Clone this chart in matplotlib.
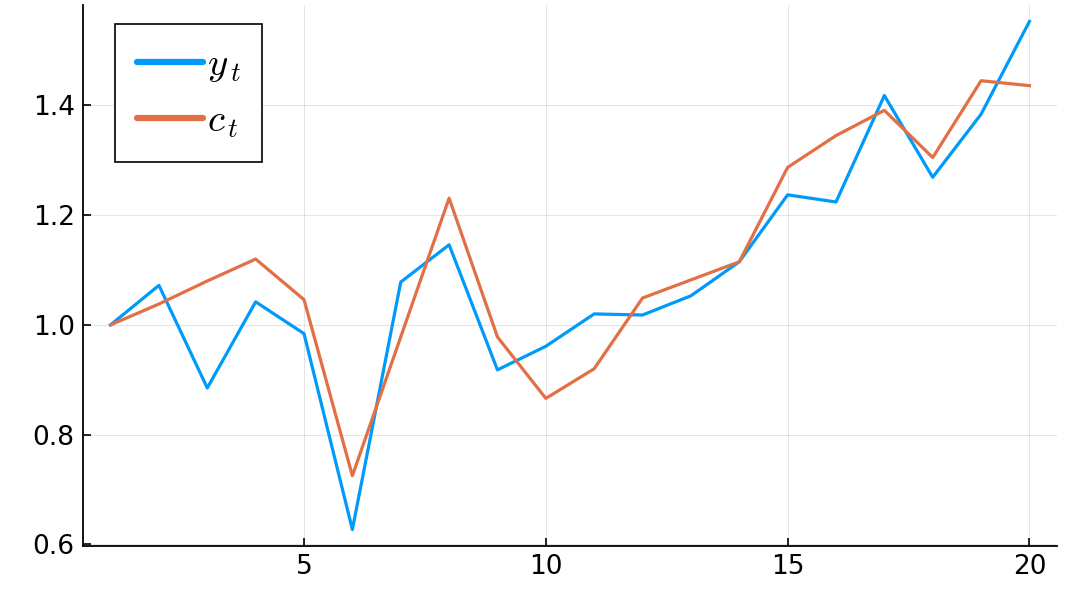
import numpy as np
import matplotlib.pyplot as plt

# series values
t = np.arange(1, 21)
y_t = [1.000, 1.072, 0.885, 1.042, 0.984, 0.627, 1.078, 1.146, 0.918, 0.961,
       1.020, 1.018, 1.053, 1.115, 1.237, 1.224, 1.418, 1.269, 1.384, 1.553]
c_t = [1.000, 1.038, 1.080, 1.120, 1.046, 0.725, 0.978, 1.231, 0.978, 0.866,
       0.920, 1.049, 1.082, 1.115, 1.287, 1.345, 1.391, 1.305, 1.445, 1.436]
labels = [r'$y_{\,t}$', r'$c_{\,t}$']
colors = ['#009AFA', '#E26F46']

plt.rcParams['mathtext.fontset'] = 'cm'

fig = plt.figure(figsize=(10.71, 5.92), dpi=100)
ax = fig.add_axes([83/1071, 46/592, (1057-83)/1071, (546-5)/592])

ax.plot(t, y_t, color=colors[0], lw=2.3, label=labels[0])
ax.plot(t, c_t, color=colors[1], lw=2.3, label=labels[1])

ax.set_xlim(0.43, 20.57)
ax.set_ylim(0.597, 1.583)
ax.set_xticks([5, 10, 15, 20])
ax.set_yticks([0.6, 0.8, 1.0, 1.2, 1.4])
ax.set_yticklabels(['0.6', '0.8', '1.0', '1.2', '1.4'])
ax.grid(True, color='black', alpha=0.1, lw=0.8)
ax.tick_params(direction='in', length=6, width=1.2, labelsize=19, pad=6)
for s in ['top', 'right']:
    ax.spines[s].set_visible(False)
for s in ['left', 'bottom']:
    ax.spines[s].set_linewidth(1.3)

leg = ax.legend(loc='upper left', bbox_to_anchor=(0.033, 0.965), borderaxespad=0,
                fontsize=28, handlelength=1.7, handletextpad=0.1, fancybox=False,
                framealpha=1, edgecolor='black', borderpad=0.55, labelspacing=0.45)
leg.get_frame().set_linewidth(1.2)
for ln in leg.get_lines():
    ln.set_linewidth(4.5)
    ln.set_solid_capstyle('round')

fig.savefig('out.png', dpi=100)
